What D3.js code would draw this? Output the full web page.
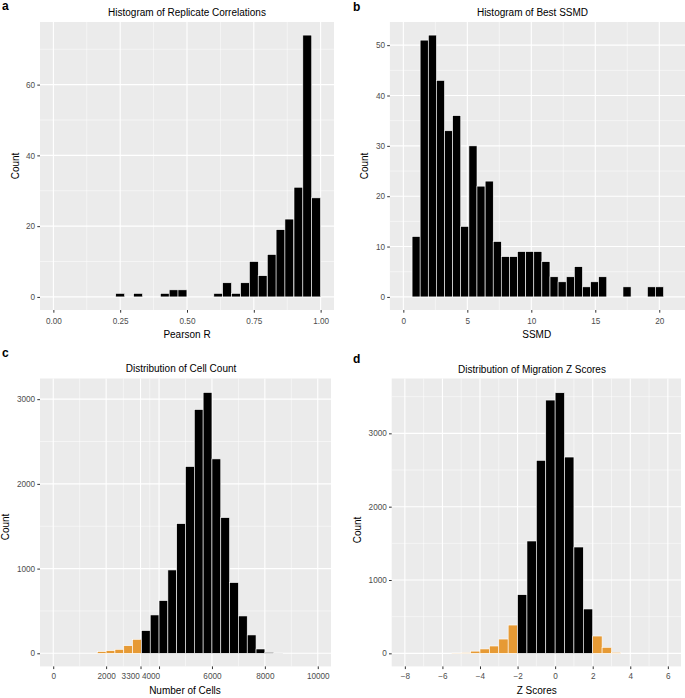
<!DOCTYPE html>
<html>
<head>
<meta charset="utf-8">
<script src="https://cdn.jsdelivr.net/npm/d3@7"></script>
<style>
  body { margin: 0; background: #fff; }
  svg { display: block; font-family: "Liberation Sans", Arial, sans-serif; }
</style>
</head>
<body>
<script>
// DATA
// a - replicate correlations (bin centres, width 1/30)
var corrBins = [0.250, 0.283, 0.317, 0.350, 0.383, 0.417, 0.450, 0.483, 0.517, 0.550, 0.583, 0.617,
                0.650, 0.683, 0.717, 0.750, 0.783, 0.817, 0.850, 0.883, 0.917, 0.950, 0.983];
var corrCounts = [1, 0, 1, 0, 0, 1, 2, 2, 0, 0, 0, 1, 4, 1, 4, 10, 6, 12, 19, 22, 31, 74, 28];
var corrTicks = [0, 0.25, 0.5, 0.75, 1];
var corrLabels = ["0.00", "0.25", "0.50", "0.75", "1.00"];
var corrYTicks = [0, 20, 40, 60];

// b - best SSMD (bin centres, width ~0.634)
var ssmdBins = [1.00, 1.63, 2.27, 2.90, 3.54, 4.17, 4.80, 5.44, 6.07, 6.71, 7.34, 7.97, 8.61, 9.24, 9.88,
                10.51, 11.14, 11.78, 12.41, 13.05, 13.68, 14.31, 14.95, 15.58, 16.22, 16.85, 17.48,
                18.12, 18.75, 19.39, 20.02];
var ssmdCounts = [12, 51, 52, 43, 33, 36, 14, 30, 22, 23, 11, 8, 8, 9, 9, 9, 7, 4, 3, 4, 6, 2, 3, 4,
                  0, 0, 2, 0, 0, 2, 2];
var ssmdTicks = [0, 5, 10, 15, 20];
var ssmdYTicks = [0, 10, 20, 30, 40, 50];

// c - cell count (bin centres, width 10000/30)
var cellBins = [1833.3, 2166.7, 2500, 2833.3, 3166.7, 3500, 3833.3, 4166.7, 4500, 4833.3, 5166.7,
                5500, 5833.3, 6166.7, 6500, 6833.3, 7166.7, 7500, 7833.3, 8166.7, 8500];
var cellCounts = [20, 31, 47, 90, 165, 268, 453, 622, 984, 1531, 2205, 2878, 3079, 2295, 1602,
                  835, 441, 217, 51, 10, 2];
var cellTicks = [0, 2000, 3300, 4000, 6000, 8000, 10000];
var cellYTicks = [0, 1000, 2000, 3000];
var cellCutoff = 3300;

// d - migration z scores (bin centres, width 0.5)
var zBins = [-5.25, -4.75, -4.25, -3.75, -3.25, -2.75, -2.25, -1.75, -1.25, -0.75, -0.25,
             0.25, 0.75, 1.25, 1.75, 2.25, 2.75, 3.25];
var zCounts = [4, 9, 30, 60, 100, 195, 386, 800, 1532, 2632, 3454, 3554, 2677, 1450, 605, 236, 82, 14];
var zTicks = [-8, -6, -4, -2, 0, 2, 4, 6];
var zYTicks = [0, 1000, 2000, 3000];
var zCutoff = 2;

var orange = "#e69a35";

var svg = d3.select("body")
    .append("svg")
    .attr("width", 685)
    .attr("height", 698);

// midpoints between breaks, like ggplot minor grid
function minorOf(ticks, domain) {
    var m = [];
    for (var i = 0; i < ticks.length - 1; i++) m.push((ticks[i] + ticks[i + 1]) / 2);
    var step = ticks[1] - ticks[0];
    m.push(ticks[0] - step / 2, ticks[ticks.length - 1] + step / 2);
    return m.filter(function(v) { return v > domain[0] && v < domain[1]; });
}

function drawPanel(o) {
    var x = d3.scaleLinear().domain(o.xDomain).range([o.left, o.right]);
    var y = d3.scaleLinear().domain(o.yDomain).range([o.bottom, o.top]);
    var g = svg.append("g");

    g.append("rect")
        .attr("x", o.left).attr("y", o.top)
        .attr("width", o.right - o.left).attr("height", o.bottom - o.top)
        .attr("fill", "#ebebeb");

    // grid
    var xMinor = minorOf(o.xTicks, o.xDomain), yMinor = minorOf(o.yTicks, o.yDomain);
    g.selectAll(".vmin").data(xMinor).enter().append("line")
        .attr("x1", d => x(d)).attr("x2", d => x(d)).attr("y1", o.top).attr("y2", o.bottom)
        .attr("stroke", "#fff").attr("stroke-width", 0.5);
    g.selectAll(".hmin").data(yMinor).enter().append("line")
        .attr("x1", o.left).attr("x2", o.right).attr("y1", d => y(d)).attr("y2", d => y(d))
        .attr("stroke", "#fff").attr("stroke-width", 0.5);
    g.selectAll(".vmaj").data(o.xTicks).enter().append("line")
        .attr("x1", d => x(d)).attr("x2", d => x(d)).attr("y1", o.top).attr("y2", o.bottom)
        .attr("stroke", "#fff").attr("stroke-width", 1.1);
    g.selectAll(".hmaj").data(o.yTicks).enter().append("line")
        .attr("x1", o.left).attr("x2", o.right).attr("y1", d => y(d)).attr("y2", d => y(d))
        .attr("stroke", "#fff").attr("stroke-width", 1.1);

    // bars
    g.selectAll(".bar").data(d3.zip(o.bins, o.counts)).enter().append("rect")
        .attr("x", d => x(d[0] - o.binWidth / 2))
        .attr("width", d => x(d[0] + o.binWidth / 2) - x(d[0] - o.binWidth / 2))
        .attr("y", d => y(d[1]))
        .attr("height", d => y(0) - y(d[1]))
        .attr("fill", d => o.color(d[0]))
        .attr("stroke", "#fff")
        .attr("stroke-width", 0.6);

    // axes
    var ax = g.append("g").attr("transform", "translate(0," + o.bottom + ")")
        .call(d3.axisBottom(x).tickValues(o.xTicks).tickSize(2.7).tickPadding(o.xPad)
            .tickFormat((d, i) => o.xLabels ? o.xLabels[i] : String(d).replace("-", "\u2212")));
    var ay = g.append("g").attr("transform", "translate(" + o.left + ",0)")
        .call(d3.axisLeft(y).tickValues(o.yTicks).tickSize(2.7).tickPadding(2.2)
            .tickFormat(d => String(d)));
    [ax, ay].forEach(function(a) {
        a.select(".domain").remove();
        a.selectAll(".tick line").attr("stroke", "#333").attr("stroke-width", 1);
        a.selectAll(".tick text").attr("fill", "#4d4d4d").attr("font-size", 8.2)
            .attr("font-family", "Liberation Sans, Arial, sans-serif");
    });
    // the two crowded labels end at their ticks in the original
    if (o.shifted) {
        ax.selectAll(".tick text").filter(d => o.shifted.indexOf(d) >= 0)
            .attr("text-anchor", "end")
            .attr("dx", d => d === o.shifted[0] ? -1.2 : 0.6);
    }

    // texts
    g.append("text").attr("x", o.titleX).attr("y", o.titleY)
        .attr("text-anchor", "middle").attr("font-size", 10).text(o.title);
    g.append("text").attr("x", o.xTitleX).attr("y", o.xTitleY)
        .attr("text-anchor", "middle").attr("font-size", 10).text(o.xTitle);
    g.append("text").attr("transform", "translate(" + o.yTitleX + "," + o.yTitleY + ") rotate(-90)")
        .attr("text-anchor", "middle").attr("font-size", 10).text("Count");
    g.append("text").attr("x", o.tagX).attr("y", o.tagY)
        .attr("font-size", 12).attr("font-weight", "bold").text(o.tag);
}

drawPanel({
    tag: "a", tagX: 2, tagY: 10,
    title: "Histogram of Replicate Correlations", titleX: 187, titleY: 15.5,
    xTitle: "Pearson R", xTitleX: 187, xTitleY: 337.5,
    yTitleX: 18.5, yTitleY: 166,
    left: 40, right: 334, top: 22, bottom: 310, xPad: 5.5,
    xDomain: [-0.05, 1.05], yDomain: [-3.7, 77.7],
    xTicks: corrTicks, xLabels: corrLabels, yTicks: corrYTicks,
    bins: corrBins, counts: corrCounts, binWidth: 1 / 30,
    color: () => "#000"
});

drawPanel({
    tag: "b", tagX: 353, tagY: 11,
    title: "Histogram of Best SSMD", titleX: 532.5, titleY: 15.5,
    xTitle: "SSMD", xTitleX: 536.7, xTitleY: 337.5,
    yTitleX: 368, yTitleY: 166,
    left: 389.9, right: 685.5, top: 22, bottom: 310, xPad: 5.5,
    xDomain: [-1.05, 22.05], yDomain: [-2.6, 54.6],
    xTicks: ssmdTicks, yTicks: ssmdYTicks,
    bins: ssmdBins, counts: ssmdCounts, binWidth: 0.634,
    color: () => "#000"
});

drawPanel({
    tag: "c", tagX: 2, tagY: 357,
    title: "Distribution of Cell Count", titleX: 181, titleY: 371.5,
    xTitle: "Number of Cells", xTitleX: 185, xTitleY: 694,
    yTitleX: 8.5, yTitleY: 527,
    left: 40, right: 331, top: 378.5, bottom: 666.4, xPad: 4.2,
    xDomain: [-500, 10500], yDomain: [-154.5, 3244],
    xTicks: cellTicks, yTicks: cellYTicks, shifted: [3300, 4000],
    bins: cellBins, counts: cellCounts, binWidth: 10000 / 30,
    color: d => d < cellCutoff ? orange : "#000"
});

drawPanel({
    tag: "d", tagX: 353, tagY: 363,
    title: "Distribution of Migration Z Scores", titleX: 532, titleY: 373,
    xTitle: "Z Scores", xTitleX: 536.7, xTitleY: 694,
    yTitleX: 360.5, yTitleY: 530,
    left: 391.7, right: 681, top: 378.5, bottom: 666.4, xPad: 4.2,
    xDomain: [-8.7, 6.7], yDomain: [-178, 3748],
    xTicks: zTicks, yTicks: zYTicks,
    bins: zBins, counts: zCounts, binWidth: 0.5,
    color: d => Math.abs(d) > zCutoff ? orange : "#000"
});
</script>
</body>
</html>
